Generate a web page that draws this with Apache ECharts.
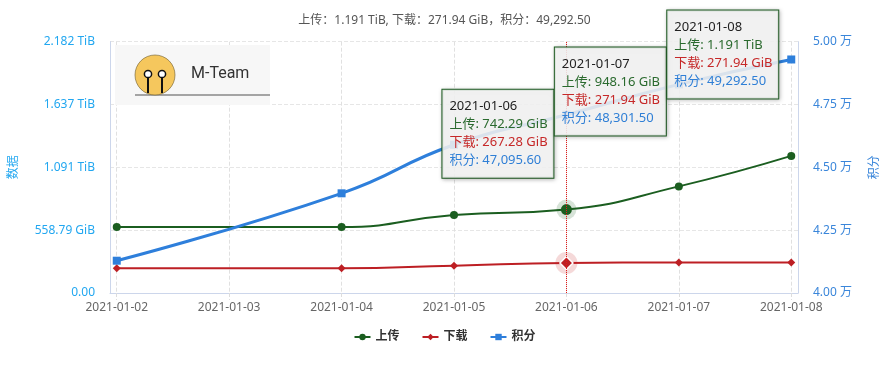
<!DOCTYPE html>
<html><head><meta charset="utf-8">
<script src="https://cdn.jsdelivr.net/npm/echarts@6/dist/echarts.min.js"></script>
<style>html,body{margin:0;padding:0;background:#fff}#c{width:889px;height:365px}</style>
</head><body><div id="c"></div>
<script>
// ---- data ----
const dates = ['2021-01-02', '2021-01-04', '2021-01-05', '2021-01-06', '2021-01-07', '2021-01-08'];
const uploadGiB = [587, 587, 694, 742.29, 948.16, 1219.6];
const downloadGiB = [220, 220, 243, 267.28, 271.94, 271.94];
const bonus = [41285, 43967, 45900, 47095.6, 48301.5, 49292.5];
const seriesNames = ['上传', '下载', '积分'];
const leftAxisStep = 558.79;          // GiB
const leftAxisMax = leftAxisStep * 4; // 2.182 TiB
const rightAxisMin = 40000, rightAxisMax = 50000, rightAxisStep = 2500;
const highlightIndex = 3;             // 2021-01-06
const boxIndices = [3, 4, 5];

const C_UP = '#1b5e20', C_DOWN = '#bd1f24', C_BONUS = '#2e7fdb';
const FONT = "'Noto Sans', 'Noto Sans CJK SC', sans-serif";

const ts = d => new Date(d + 'T00:00:00').getTime();
const pad2 = n => (n < 10 ? '0' : '') + n;
const floorTo = (v, n) => { const m = Math.pow(10, n); return (Math.floor(v * m + 1e-6) / m).toFixed(n); };
const fmtBytes = v => v === 0 ? '0.00' : (v >= 1024 ? floorTo(v / 1024, 3) + ' TiB' : floorTo(v, 2) + ' GiB');
const fmtNum = v => v.toLocaleString('en-US', { minimumFractionDigits: 2, maximumFractionDigits: 2 });

const xs = dates.map(ts);
const span = xs[xs.length - 1] - xs[0];
const last = dates.length - 1;

const upData = uploadGiB.map((v, i) => i === highlightIndex
  ? { value: [xs[i], v], symbolSize: 11 } : [xs[i], v]);
const downData = downloadGiB.map((v, i) => i === highlightIndex
  ? { value: [xs[i], v], symbolSize: 13, itemStyle: { borderColor: '#fff', borderWidth: 1.5 } } : [xs[i], v]);

const chart = echarts.init(document.getElementById('c'), null, { renderer: 'canvas' });

const option = {
  animation: false,
  textStyle: { fontFamily: FONT },
  title: {
    text: '上传：' + fmtBytes(uploadGiB[last]) + ', 下载：' + fmtBytes(downloadGiB[last]) + '，积分：' + fmtNum(bonus[last]),
    left: 'center', top: 10,
    textStyle: { fontSize: 12, fontWeight: 'normal', color: '#555', fontFamily: FONT }
  },
  legend: {
    data: seriesNames, bottom: 17, left: 'center',
    itemWidth: 16, itemHeight: 8, itemGap: 22,
    textStyle: { fontSize: 12, fontWeight: 'bold', color: '#333' }
  },
  grid: { left: 107, right: 86, top: 41.7, bottom: 72, containLabel: false },
  xAxis: {
    type: 'time',
    min: xs[0] - span * 0.01, max: xs[last] + span * 0.01,
    minInterval: 86400000, maxInterval: 86400000,
    axisLine: { lineStyle: { color: '#ccd6eb' } },
    axisTick: { show: true, length: 7, lineStyle: { color: '#dddddd', type: 'dashed' } },
    splitLine: { show: true, lineStyle: { color: '#e0e0e0', type: 'dashed' } },
    axisLabel: {
      color: '#666', fontSize: 12, margin: 9, hideOverlap: false,
      formatter: function (val) {
        const d = new Date(val);
        if (d.getHours() !== 0 || d.getMinutes() !== 0) return '';
        return d.getFullYear() + '-' + pad2(d.getMonth() + 1) + '-' + pad2(d.getDate());
      }
    }
  },
  yAxis: [{
    type: 'value', name: '数据', nameLocation: 'middle', nameGap: 90,
    nameTextStyle: { color: '#22a7f0', fontSize: 12 },
    min: 0, max: leftAxisMax, interval: leftAxisStep,
    axisLine: { show: true, lineStyle: { color: '#ccd6eb' } },
    axisTick: { show: false },
    splitLine: { show: true, lineStyle: { color: '#e6e6e6', type: 'dashed' } },
    axisLabel: { color: '#22a7f0', fontSize: 12, margin: 15, formatter: v => fmtBytes(Math.round(v * 100) / 100) }
  }, {
    type: 'value', name: '积分', nameLocation: 'middle', nameGap: 71,
    nameTextStyle: { color: '#3a86da', fontSize: 12 },
    min: rightAxisMin, max: rightAxisMax, interval: rightAxisStep,
    axisLine: { show: true, lineStyle: { color: '#ccd6eb' } },
    axisTick: { show: false },
    splitLine: { show: false },
    axisLabel: { color: '#3a86da', fontSize: 12, margin: 15, formatter: v => (v / 10000).toFixed(2) + ' 万' }
  }],
  series: [{
    name: seriesNames[0], type: 'line', smooth: true, yAxisIndex: 0,
    symbol: 'circle', symbolSize: 8, z: 3,
    itemStyle: { color: C_UP }, lineStyle: { color: C_UP, width: 2 },
    data: upData,
    markLine: {
      silent: true, symbol: 'none', label: { show: false },
      lineStyle: { color: '#e31a1a', type: 'dotted', width: 1 },
      data: [{ xAxis: xs[highlightIndex] }]
    }
  }, {
    name: seriesNames[1], type: 'line', smooth: true, yAxisIndex: 0,
    symbol: 'diamond', symbolSize: 8, z: 3,
    itemStyle: { color: C_DOWN }, lineStyle: { color: C_DOWN, width: 2 },
    data: downData
  }, {
    name: seriesNames[2], type: 'line', smooth: true, yAxisIndex: 1,
    symbol: 'rect', symbolSize: 8, z: 3,
    itemStyle: { color: C_BONUS }, lineStyle: { color: C_BONUS, width: 3 },
    data: bonus.map((v, i) => [xs[i], v])
  }, {
    name: 'halo-up', type: 'scatter', yAxisIndex: 0, silent: true, z: 2,
    symbolSize: 20, itemStyle: { color: 'rgba(27,94,32,0.22)' },
    data: [[xs[highlightIndex], uploadGiB[highlightIndex]]]
  }, {
    name: 'halo-down', type: 'scatter', yAxisIndex: 0, silent: true, z: 2,
    symbolSize: 22, itemStyle: { color: 'rgba(200,40,40,0.22)' },
    data: [[xs[highlightIndex], downloadGiB[highlightIndex]]]
  }]
};
chart.setOption(option);

// ---- graphic overlays: logo + info boxes anchored via the chart's scales ----
const boxOffsets = [[-124, -25], [-124, -37], [-124, -49]];
const boxes = boxIndices.map((idx, k) => {
  const p = chart.convertToPixel({ seriesIndex: 2 }, [xs[idx], bonus[idx]]);
  return {
    type: 'text', z: 100, zlevel: 0,
    x: p[0] + boxOffsets[k][0], y: p[1] + boxOffsets[k][1],
    style: {
      text: '{d|' + dates[idx] + '}\n{u|上传: ' + fmtBytes(uploadGiB[idx]) + '}\n{w|下载: ' + fmtBytes(downloadGiB[idx]) + '}\n{b|积分: ' + fmtNum(bonus[idx]) + '}',
      width: 96, lineHeight: 18, fontSize: 13, fontFamily: FONT,
      backgroundColor: 'rgba(247,247,247,0.86)',
      borderColor: '#1e5e22', borderWidth: 1,
      padding: [8, 8, 8, 7],
      shadowBlur: 4, shadowColor: 'rgba(0,0,0,0.25)', shadowOffsetX: 1, shadowOffsetY: 1,
      rich: {
        d: { fill: '#222', fontSize: 13, lineHeight: 18, fontFamily: FONT },
        u: { fill: '#2a6a2e', fontSize: 13, lineHeight: 18, fontFamily: FONT },
        w: { fill: '#c62828', fontSize: 13, lineHeight: 18, fontFamily: FONT },
        b: { fill: '#2f7fd6', fontSize: 13, lineHeight: 18, fontFamily: FONT }
      }
    }
  };
});

const logo = [
  { type: 'rect', z: 90, shape: { x: 115, y: 45, width: 155, height: 60 }, style: { fill: '#f7f7f7' } },
  { type: 'line', z: 91, shape: { x1: 135, y1: 95, x2: 270, y2: 95 }, style: { stroke: '#888', lineWidth: 1.5 } },
  { type: 'circle', z: 91, shape: { cx: 155, cy: 75, r: 20 }, style: { fill: '#f5c75d', stroke: '#6b5a2e', lineWidth: 0.6 } },
  { type: 'line', z: 92, shape: { x1: 148, y1: 77, x2: 148, y2: 93 }, style: { stroke: '#111', lineWidth: 2 } },
  { type: 'line', z: 92, shape: { x1: 162, y1: 77, x2: 162, y2: 93 }, style: { stroke: '#111', lineWidth: 2 } },
  { type: 'circle', z: 93, shape: { cx: 148, cy: 74, r: 3.6 }, style: { fill: '#fff', stroke: '#111', lineWidth: 1.5 } },
  { type: 'circle', z: 93, shape: { cx: 162, cy: 74, r: 3.6 }, style: { fill: '#fff', stroke: '#111', lineWidth: 1.5 } },
  { type: 'text', z: 93, x: 191, y: 74, style: { text: 'M-Team', fontSize: 16, fontFamily: 'Roboto, sans-serif', fill: '#333', verticalAlign: 'middle' } }
];

chart.setOption({ graphic: logo.concat(boxes) });
</script>
</body></html>
